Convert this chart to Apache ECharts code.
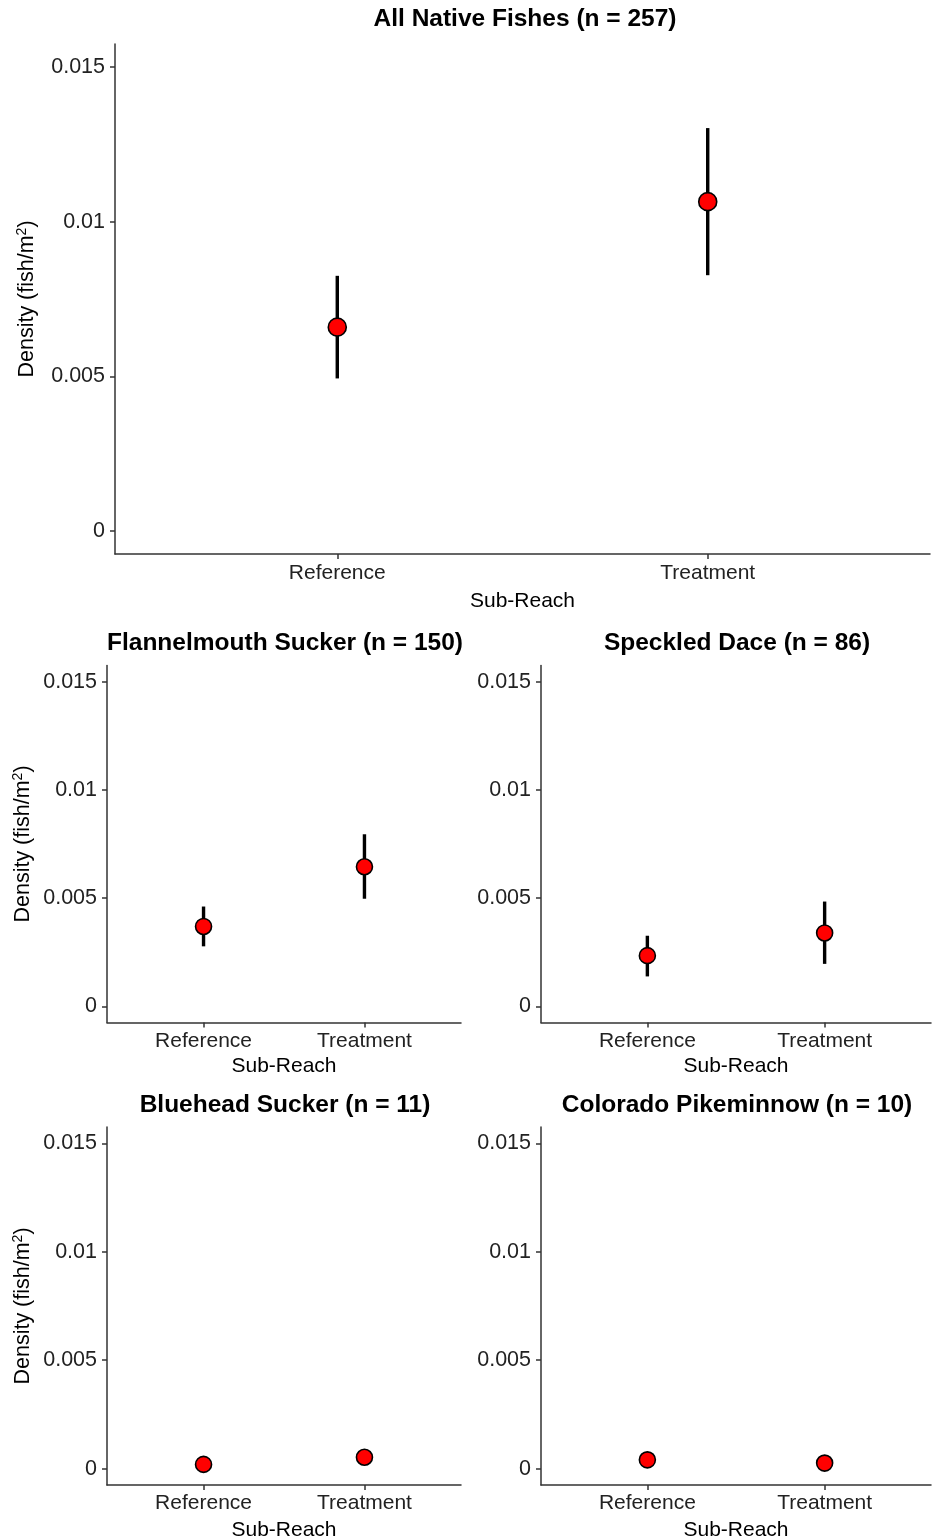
<!DOCTYPE html>
<html>
<head>
<meta charset="utf-8">
<script src="https://cdn.jsdelivr.net/npm/echarts@6/dist/echarts.min.js"></script>
<style>
  html, body { margin: 0; padding: 0; background: #fff; }
  #chart { width: 935px; height: 1538px; }
</style>
</head>
<body>
<div id="chart"></div>
<script>
// sub-reach categories (positions 1, 2 on a ggplot-style discrete axis)
const subReaches = ['Reference', 'Treatment']
const yTicks = [0, 0.005, 0.01, 0.015]
const yTickLabels = ['0', '0.005', '0.01', '0.015']

const panelTitles = [
  'All Native Fishes (n = 257)',
  'Flannelmouth Sucker (n = 150)',
  'Speckled Dace (n = 86)',
  'Bluehead Sucker (n = 11)',
  'Colorado Pikeminnow (n = 10)'
]

// mean density (fish/m2) per panel, [Reference, Treatment]
const allNativeMean = [0.00659, 0.01065]
const flannelmouthMean = [0.00369, 0.00645]
const speckledDaceMean = [0.00234, 0.00339]
const blueheadMean = [0.0002, 0.00053]
const pikeminnowMean = [0.00041, 0.00026]

// error bar low / high
const allNativeLow = [0.00493, 0.00827]
const allNativeHigh = [0.00825, 0.01303]
const flannelmouthLow = [0.00277, 0.00497]
const flannelmouthHigh = [0.00461, 0.00795]
const speckledDaceLow = [0.00138, 0.00196]
const speckledDaceHigh = [0.00326, 0.00484]

const FONT = 'Liberation Sans, Arial, sans-serif'

const panels = [
  { mean: allNativeMean, low: allNativeLow, high: allNativeHigh,
    grid: { left: 115, top: 44, width: 815, height: 510 }, yName: true, yNameGap: 76, xNameGap: 37, labelMargin: 9, size: 18,
    titleX: 520, titleY: 2 },
  { mean: flannelmouthMean, low: flannelmouthLow, high: flannelmouthHigh,
    grid: { left: 107, top: 665.5, width: 354, height: 357 }, yName: true, yNameGap: 72, xNameGap: 33, labelMargin: 8, size: 16,
    titleX: 280, titleY: 626 },
  { mean: speckledDaceMean, low: speckledDaceLow, high: speckledDaceHigh,
    grid: { left: 541, top: 665.5, width: 390, height: 357 }, yName: false, yNameGap: 72, xNameGap: 33, labelMargin: 8, size: 16,
    titleX: 732, titleY: 626 },
  { mean: blueheadMean, low: null, high: null,
    grid: { left: 107, top: 1127, width: 354, height: 358 }, yName: true, yNameGap: 72, xNameGap: 35, labelMargin: 8, size: 16,
    titleX: 280, titleY: 1088 },
  { mean: pikeminnowMean, low: null, high: null,
    grid: { left: 541, top: 1127, width: 390, height: 358 }, yName: false, yNameGap: 72, xNameGap: 35, labelMargin: 8, size: 16,
    titleX: 732, titleY: 1088 }
]

const axisLine = { onZero: false, lineStyle: { color: '#333', width: 1.5 } }
const axisTick = { length: 5, lineStyle: { color: '#333', width: 1.5 } }

const grids = [], xAxes = [], yAxes = [], series = [], titles = []

panels.forEach((p, i) => {
  grids.push({ ...p.grid, outerBoundsMode: 'none', containLabel: false })
  titles.push({
    text: panelTitles[i],
    left: p.titleX,
    top: p.titleY,
    textAlign: 'center',
    textStyle: { fontFamily: FONT, fontSize: 24.5, fontWeight: 'bold', color: '#000' }
  })
  xAxes.push({
    type: 'value',
    gridIndex: i,
    min: 0.4,
    max: 2.6,
    splitLine: { show: false },
    axisLine: axisLine,
    axisTick: { ...axisTick, customValues: [1, 2] },
    axisLabel: {
      customValues: [1, 2],
      formatter: v => subReaches[Math.round(v) - 1] || '',
      fontFamily: FONT, fontSize: 21, color: '#222', margin: p.labelMargin
    },
    name: 'Sub-Reach',
    nameLocation: 'middle',
    nameGap: p.xNameGap,
    nameMoveOverlap: false,
    nameTextStyle: { fontFamily: FONT, fontSize: 21, color: '#000' }
  })
  yAxes.push({
    type: 'value',
    gridIndex: i,
    min: -0.00075,
    max: 0.01575,
    splitLine: { show: false },
    axisLine: axisLine,
    axisTick: { ...axisTick, customValues: yTicks },
    axisLabel: {
      customValues: yTicks,
      formatter: v => yTickLabels[yTicks.findIndex(t => Math.abs(t - v) < 1e-9)] ?? '',
      fontFamily: FONT, fontSize: 21.5, color: '#222', margin: 10
    },
    name: p.yName ? '{a|Density (fish/m}{s|2}{a|)}' : '',
    nameLocation: 'middle',
    nameGap: p.yNameGap,
    nameMoveOverlap: false,
    nameTextStyle: {
      rich: {
        a: { fontFamily: FONT, fontSize: 21.5, color: '#000' },
        s: { fontFamily: FONT, fontSize: 14, color: '#000', verticalAlign: 'top', padding: [0, 0, 10, 0] }
      }
    }
  })
  if (p.low) {
    series.push({
      type: 'custom',
      xAxisIndex: i,
      yAxisIndex: i,
      data: subReaches.map((_, k) => [k + 1, p.low[k], p.high[k]]),
      renderItem: (params, api) => {
        const a = api.coord([api.value(0), api.value(1)])
        const b = api.coord([api.value(0), api.value(2)])
        return {
          type: 'line',
          shape: { x1: a[0], y1: a[1], x2: b[0], y2: b[1] },
          style: { stroke: '#000', lineWidth: 3.4 }
        }
      },
      silent: true,
      z: 2
    })
  }
  series.push({
    type: 'scatter',
    xAxisIndex: i,
    yAxisIndex: i,
    data: subReaches.map((_, k) => [k + 1, p.mean[k]]),
    symbol: 'circle',
    symbolSize: p.size,
    itemStyle: { color: '#ff0000', borderColor: '#000', borderWidth: 1.6, opacity: 1 },
    z: 3
  })
})

const chart = echarts.init(document.getElementById('chart'))
chart.setOption({
  backgroundColor: '#fff',
  animation: false,
  title: titles,
  grid: grids,
  xAxis: xAxes,
  yAxis: yAxes,
  series: series
})
</script>
</body>
</html>
